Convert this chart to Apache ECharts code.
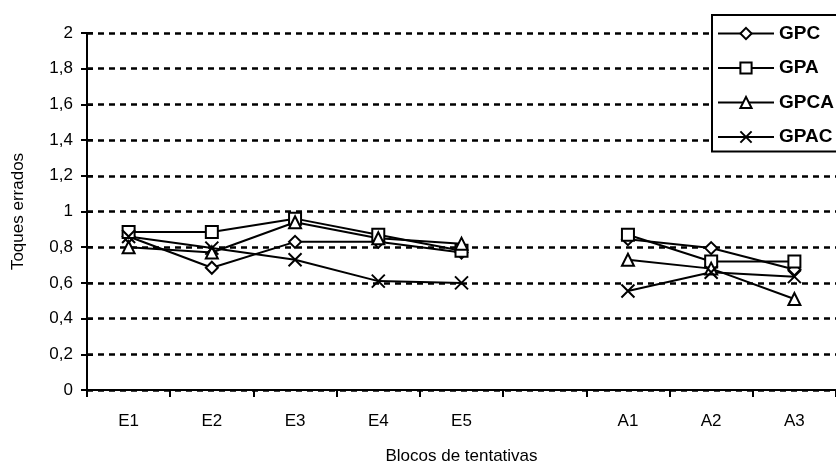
<!DOCTYPE html>
<html>
<head>
<meta charset="utf-8">
<script src="https://cdn.jsdelivr.net/npm/echarts@6/dist/echarts.min.js"></script>
<style>
html,body{margin:0;padding:0;background:#fff;}
#chart{width:836px;height:470px;}
</style>
</head>
<body>
<div id="chart"></div>
<script>
var categories = ['E1','E2','E3','E4','E5','','A1','A2','A3'];
var yTickLabels = ['0','0,2','0,4','0,6','0,8','1','1,2','1,4','1,6','1,8','2'];
var seriesNames = ['GPC','GPA','GPCA','GPAC'];
var gpc  = [0.86, 0.685, 0.83, 0.83, 0.77, null, 0.845, 0.795, 0.675];
var gpa  = [0.885, 0.885, 0.96, 0.87, 0.78, null, 0.87, 0.72, 0.72];
var gpca = [0.80, 0.77, 0.94, 0.85, 0.82, null, 0.73, 0.68, 0.51];
var gpac = [0.86, 0.795, 0.73, 0.61, 0.60, null, 0.555, 0.66, 0.635];

var FONT = '"Liberation Sans", Arial, sans-serif';
var chart = echarts.init(document.getElementById('chart'), null, {renderer:'canvas'});

function mk(name, data, symbol, extra){
  var s = {
    name: name, type: 'line', data: data, symbol: symbol, symbolSize: 12,
    showAllSymbol: true, connectNulls: false, animation: false,
    lineStyle: {color:'#000', width: 2},
    itemStyle: {color:'#000', borderColor:'#000', borderWidth: 2},
    emphasis: {disabled: true}
  };
  if (extra) Object.assign(s, extra);
  return s;
}

var option = {
  backgroundColor: '#fff',
  animation: false,
  grid: {left: 87, right: -9, top: 33, bottom: 74, containLabel: false},
  legend: {
    show: true, orient: 'vertical', top: 15,
    left: 712,
    data: seriesNames,
    backgroundColor: '#fff', borderColor: '#000', borderWidth: 2,
    padding: [9, 60, 5, 5],
    itemWidth: 56, itemHeight: 14, itemGap: 15.5,
    textStyle: {fontFamily: FONT, fontSize: 19, lineHeight: 18, fontWeight: 'bold', color: '#000'},
    z: 10
  },
  xAxis: {
    type: 'category', data: categories, boundaryGap: true,
    axisLine: {show: true, onZero: false, lineStyle: {color:'#000', width: 2}},
    axisTick: {show: true, length: 7, lineStyle: {color:'#000', width: 2}},
    axisLabel: {margin: 23, fontFamily: FONT, fontSize: 17, color:'#000', interval: 0},
    splitLine: {show: false},
    name: 'Blocos de tentativas', nameLocation: 'middle', nameGap: 58,
    nameTextStyle: {fontFamily: FONT, fontSize: 17, color:'#000'}
  },
  yAxis: [{
    type: 'value', min: 0, max: 2, interval: 0.2,
    axisLine: {show: true, lineStyle: {color:'#000', width: 2}},
    axisTick: {show: true, length: 6, lineStyle: {color:'#000', width: 2}},
    axisLabel: {margin: 14, fontFamily: FONT, fontSize: 17, color:'#000',
      formatter: function(v){ return yTickLabels[Math.round(v/0.2)]; }},
    splitLine: {show: true, lineStyle: {color:'#000', width: 2.5, type: [6,5]}},
    name: 'Toques errados', nameLocation: 'middle', nameGap: 60, nameRotate: 90,
    nameTextStyle: {fontFamily: FONT, fontSize: 17, color:'#000'}
  },{
    type: 'value', min: 0, max: 2, interval: 0.2, position: 'left',
    axisLine: {show: false},
    axisTick: {show: true, inside: true, length: 6, lineStyle: {color:'#000', width: 2}},
    axisLabel: {show: false},
    splitLine: {show: false}
  }],
  series: [
    mk('GPC', gpc, 'emptyDiamond'),
    mk('GPA', gpa, 'emptyRect'),
    mk('GPCA', gpca, 'emptyTriangle'),
    mk('GPAC', gpac, 'path://M0,0L10,10M10,0L0,10', {symbolSize: 13})
  ]
};
chart.setOption(option);
</script>
</body>
</html>
